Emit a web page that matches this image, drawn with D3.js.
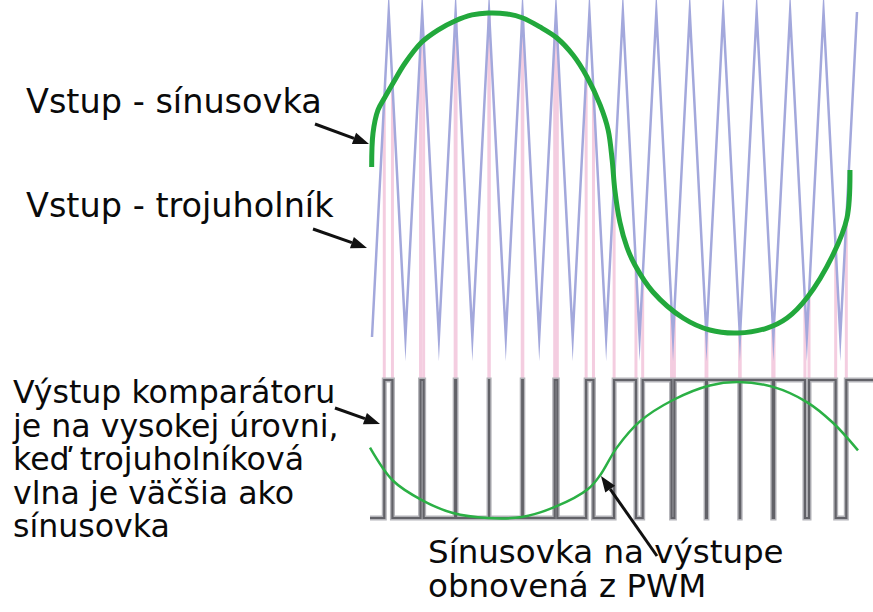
<!DOCTYPE html>
<html>
<head>
<meta charset="utf-8">
<script src="https://cdn.jsdelivr.net/npm/d3@7"></script>
<style>
  body { margin: 0; background: #fff; }
  text { font-family: "DejaVu Sans", Verdana, sans-serif; fill: #0a0a0a; }
</style>
</head>
<body>
<div id="chart"></div>
<script>
// triangle carrier: vertices (time in carrier periods, level -1..1)
var triT = [0, 0.5, 1, 1.5, 2, 2.5, 3, 3.5, 4, 4.5, 5, 5.5, 6, 6.5, 7, 7.5,
            8, 8.5, 9, 9.5, 10, 10.5, 11, 11.5, 12, 12.5, 13, 13.5, 14, 14.5];
var triV = [-1, 1, -1, 1, -1, 1, -1, 1, -1, 1, -1, 1, -1, 1, -1, 1,
            -1, 1, -1, 1, -1, 1, -1, 1, -1, 1, -1, 1, -1, 1];

// input sine
var sineT = [-0.01, 0.03, 0.18, 0.39, 0.63, 0.99, 1.49, 1.97, 2.48, 2.99, 3.47, 4.04,
             4.51, 5.02, 5.53, 6.01, 6.43, 6.82, 7.06, 7.18, 7.26, 7.41, 7.62, 7.86,
             8.4, 9.3, 10.1, 10.94, 11.81, 12.41, 13.0, 13.78, 14.2, 14.29];
var sineV = [0.046, 0.255, 0.397, 0.477, 0.563, 0.686, 0.815, 0.889, 0.945, 0.982, 0.994, 0.988,
             0.963, 0.908, 0.84, 0.735, 0.6, 0.428, 0.274, 0.089, -0.095, -0.292, -0.446, -0.557,
             -0.723, -0.883, -0.957, -0.975, -0.945, -0.883, -0.76, -0.495, -0.268, 0.028];

// sine recovered from the PWM (0 = low level, 1 = high level)
var recT = [-0.06, 0.63, 1.49, 2.42, 3.47, 4.48, 5.47, 6.46, 6.82, 7.32, 8.01, 9.0,
            10.1, 10.94, 11.99, 13.0, 13.78, 14.53];
var recV = [0.51, 0.27, 0.13, 0.036, 0, 0.007, 0.08, 0.21, 0.31, 0.51, 0.70, 0.855,
            0.96, 0.985, 0.95, 0.84, 0.69, 0.49];

var labelSine = "Vstup - sínusovka";
var labelTri = "Vstup - trojuholník";
var labelComp = ["Výstup komparátoru", "je na vysokej úrovni,", "keď trojuholníková",
                 "vlna je väčšia ako", "sínusovka"];
var labelOut = ["Sínusovka na výstupe", "obnovená z PWM"];

var W = 873, H = 612;

var svg = d3.select("#chart").append("svg")
  .attr("width", W)
  .attr("height", H);

svg.append("rect").attr("width", W).attr("height", H).attr("fill", "#fff");

var x = d3.scaleLinear().domain([0, 14.5]).range([372, 857]);
var yIn = d3.scaleLinear().domain([-1, 1]).range([337, 12]);
var yOut = d3.scaleLinear().domain([0, 1]).range([518, 380]);

var tri = triT.map(function(t, i){ return {t: t, v: triV[i]}; });
var sine = sineT.map(function(t, i){ return {t: t, v: sineV[i]}; });
var rec = recT.map(function(t, i){ return {t: t, v: recV[i]}; });

// comparator: where the triangle crosses the sine (polyline intersection)
var crossings = [];
for (var i = 0; i < tri.length - 1; i++) {
  var a = tri[i], b = tri[i + 1];
  for (var j = 0; j < sine.length - 1; j++) {
    var c = sine[j], d = sine[j + 1];
    if (d.t < a.t || c.t > b.t) continue;
    var r = {t: b.t - a.t, v: b.v - a.v};
    var s = {t: d.t - c.t, v: d.v - c.v};
    var den = r.t * s.v - r.v * s.t;
    if (den == 0) continue;
    var u = ((c.t - a.t) * s.v - (c.v - a.v) * s.t) / den;
    var w = ((c.t - a.t) * r.v - (c.v - a.v) * r.t) / den;
    if (u >= 0 && u <= 1 && w >= 0 && w < 1) {
      crossings.push({t: a.t + u * r.t, v: a.v + u * r.v});
    }
  }
}
crossings.sort(function(p, q){ return p.t - q.t; });

// PWM: high while triangle > sine
var level = (triV[0] > sineV[0]) ? 1 : 0;
var pwm = [{t: -0.06, v: level}];
crossings.forEach(function(c){
  pwm.push({t: c.t, v: level});
  level = 1 - level;
  pwm.push({t: c.t, v: level});
});
pwm.push({t: x.invert(W), v: level});

// pink guide lines
svg.append("g").selectAll("line")
  .data(crossings)
  .enter().append("line")
  .attr("x1", function(d){ return x(d.t); })
  .attr("x2", function(d){ return x(d.t); })
  .attr("y1", function(d){ return yIn(d.v); })
  .attr("y2", yOut(1))
  .style("stroke", "#f4cde0")
  .style("stroke-width", 3);

var lineIn = d3.line()
  .x(function(d){ return x(d.t); })
  .y(function(d){ return yIn(d.v); });

svg.append("path")
  .datum(tri)
  .attr("d", lineIn)
  .style("fill", "none")
  .style("stroke", "#a3a8dc")
  .style("stroke-width", 2.5)
  .style("stroke-linejoin", "miter")
  .style("stroke-miterlimit", 20);

svg.append("path")
  .datum(sine)
  .attr("d", lineIn.curve(d3.curveCatmullRom.alpha(0.5)))
  .style("fill", "none")
  .style("stroke", "#22a83c")
  .style("stroke-width", 5);

var lineOut = d3.line()
  .x(function(d){ return x(d.t); })
  .y(function(d){ return yOut(d.v); });

svg.append("path")
  .datum(pwm)
  .attr("d", lineOut)
  .style("fill", "none")
  .style("stroke", "#b4b4b9")
  .style("stroke-width", 5);

svg.append("path")
  .datum(pwm)
  .attr("d", lineOut)
  .style("fill", "none")
  .style("stroke", "#626268")
  .style("stroke-width", 2.2);

svg.append("path")
  .datum(rec)
  .attr("d", d3.line()
    .x(function(d){ return x(d.t); })
    .y(function(d){ return yOut(d.v); })
    .curve(d3.curveCatmullRom.alpha(0.5)))
  .style("fill", "none")
  .style("stroke", "#2bb045")
  .style("stroke-width", 2.5);

// arrows
var drawArrow = function(x1, y1, x2, y2){
  var ang = Math.atan2(y2 - y1, x2 - x1);
  var len = 16, half = 6;
  var bx = x2 - len * Math.cos(ang), by = y2 - len * Math.sin(ang);
  svg.append("line")
    .attr("x1", x1).attr("y1", y1)
    .attr("x2", bx).attr("y2", by)
    .style("stroke", "#111")
    .style("stroke-width", 3);
  svg.append("path")
    .attr("d", "M" + x2 + "," + y2 +
      "L" + (bx + half * Math.sin(ang)) + "," + (by - half * Math.cos(ang)) +
      "L" + (bx - half * Math.sin(ang)) + "," + (by + half * Math.cos(ang)) + "Z")
    .style("fill", "#111");
};
drawArrow(315, 124, 369, 144);
drawArrow(313, 229, 367, 248);
drawArrow(335, 408, 380, 424);
drawArrow(657, 556, 601, 476);

// labels
svg.append("text").attr("x", 26).attr("y", 113)
  .attr("font-size", 33.5).text(labelSine);
svg.append("text").attr("x", 26).attr("y", 217)
  .attr("font-size", 33.5).text(labelTri);

svg.append("g").selectAll("text")
  .data(labelComp)
  .enter().append("text")
  .attr("x", 13)
  .attr("y", function(d, i){ return 403 + i * 33.5; })
  .attr("font-size", 31.6)
  .text(function(d){ return d; });

svg.append("g").selectAll("text")
  .data(labelOut)
  .enter().append("text")
  .attr("x", 428)
  .attr("y", function(d, i){ return 563 + i * 34; })
  .attr("font-size", 32.5)
  .text(function(d){ return d; });
</script>
</body>
</html>
